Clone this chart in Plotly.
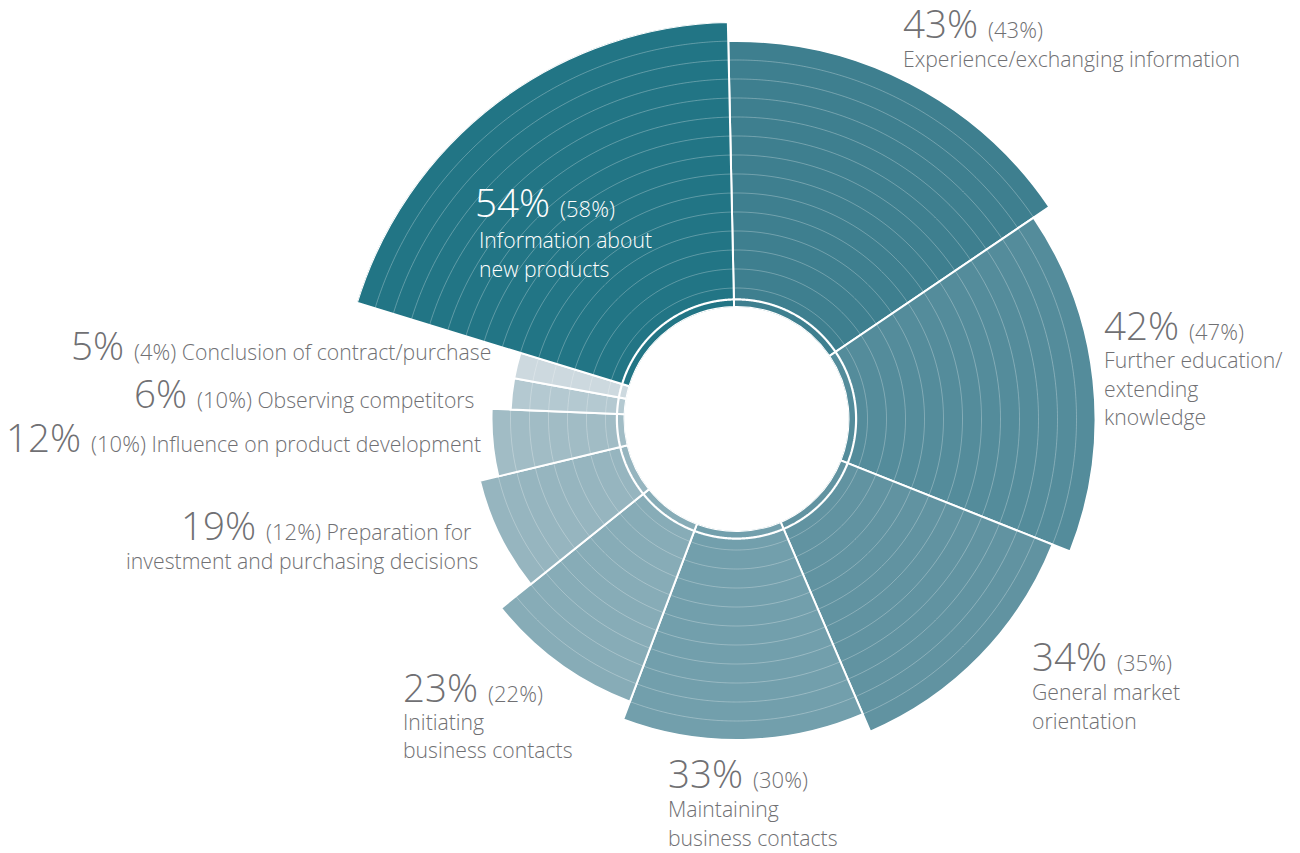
import numpy as np
import plotly.graph_objects as go

# Reasons for visiting, current share (%), prior-year share (%) and the ring depth of each sector
categories = [
    "Experience/exchanging information",
    "Further education/<br>extending<br>knowledge",
    "General market<br>orientation",
    "Maintaining<br>business contacts",
    "Initiating<br>business contacts",
    "Preparation for<br>investment and purchasing decisions",
    "Influence on product development",
    "Observing competitors",
    "Conclusion of contract/purchase",
    "Information about<br>new products",
]
share_now = [43, 42, 34, 33, 23, 19, 12, 6, 5, 54]
share_prev = [43, 47, 35, 30, 22, 12, 10, 10, 4, 58]
ring_depth = [14, 13, 12, 11, 10, 8, 7, 6, 6, 15]

colors = ["#3e7f8f", "#548c9b", "#6193a1", "#729fac", "#87acb7",
          "#96b5bf", "#a1bcc5", "#b4c9d1", "#cdd9df", "#227585"]

# Canvas and wheel geometry (pixels)
W, H = 1300, 853
CX, CY = 736.5, 419.0
HOLE_PX = 112.0
RING_PX = 19.0
R_MAX = max(ring_depth)
R_PX = HOLE_PX + RING_PX * R_MAX

# Sector widths proportional to the current share
total = sum(share_now)
widths = [v * 360.0 / total for v in share_now]
starts = np.concatenate([[0.0], np.cumsum(widths)[:-1]])
mids = starts + np.array(widths) / 2.0

fig = go.Figure()
fig.add_trace(go.Barpolar(
    r=ring_depth, theta=mids, width=widths,
    marker=dict(color=colors, line=dict(color="white", width=2)),
    hoverinfo="skip", showlegend=False,
))

# Fine concentric rings across the sectors
ring_theta = np.linspace(0, 360, 1441)
for k in range(1, R_MAX):
    fig.add_trace(go.Scatterpolar(
        r=np.full(ring_theta.size, k), theta=ring_theta, mode="lines",
        line=dict(color="rgba(255,255,255,0.36)", width=0.8),
        hoverinfo="skip", showlegend=False,
    ))
# Solid white circle separating the inner band
fig.add_trace(go.Scatterpolar(
    r=np.full(ring_theta.size, 0.4), theta=ring_theta, mode="lines",
    line=dict(color="white", width=2.2),
    hoverinfo="skip", showlegend=False,
))

fig.update_layout(
    width=W, height=H, margin=dict(l=0, r=0, t=0, b=0),
    paper_bgcolor="white", plot_bgcolor="white",
    showlegend=False,
    polar=dict(
        domain=dict(x=[(CX - R_PX) / W, (CX + R_PX) / W],
                    y=[(H - CY - R_PX) / H, (H - CY + R_PX) / H]),
        hole=HOLE_PX / R_PX,
        bgcolor="white",
        radialaxis=dict(range=[0, R_MAX], visible=False),
        angularaxis=dict(visible=False, rotation=91.25, direction="clockwise"),
    ),
)

# Label placement: header x, description x, header baseline, first description baseline, alignment, mode
GREY = "#707073"
label_layout = [
    (902, 902, 38, 66.5, "left", "below", GREY),
    (1103, 1103, 340, 368, "left", "below", GREY),
    (1031, 1031, 670.5, 700, "left", "below", GREY),
    (667, 667, 788, 817, "left", "below", GREY),
    (402, 402, 702, 729.5, "left", "below", GREY),
    (472, 479, 540, 568.5, "right", "inline", GREY),
    (482, 482, 452, None, "right", "inline", GREY),
    (475, 475, 408, None, "right", "inline", GREY),
    (492, 492, 360, None, "right", "inline", GREY),
    (474, 478, 217, 248, "left", "below", "white"),
]
LINE_GAP = 28.5
BIG, SMALL, BODY = 38.5, 22, 21.2
FONT = "Open Sans, Noto Sans, sans-serif"
NBSP = "\u00a0"


def put_text(html, x_px, baseline_px, size_max, anchor, color):
    fig.add_annotation(
        x=x_px / W, y=1 - (baseline_px - 0.388 * size_max) / H,
        xref="paper", yref="paper", xanchor=anchor, yanchor="middle",
        text=html, showarrow=False, borderpad=0, align=anchor,
        font=dict(family=FONT, size=BODY, color=color, weight=300),
    )


for cat, now, prev, spec in zip(categories, share_now, share_prev, label_layout):
    xh, xl, hb, lb, anchor, mode, color = spec
    lines = cat.split("<br>")
    head = (f"<span style='font-size:{BIG}px'>{now}%{NBSP}</span>"
            f"<span style='font-size:{SMALL}px'>({prev}%)</span>")
    if mode == "inline":
        head += NBSP + lines[0]
        rest = lines[1:]
    else:
        rest = lines
    put_text(head, xh, hb, BIG, anchor, color)
    for i, line in enumerate(rest):
        put_text(line, xl, lb + i * LINE_GAP, BODY, anchor, color)

fig.write_html("out.html")
